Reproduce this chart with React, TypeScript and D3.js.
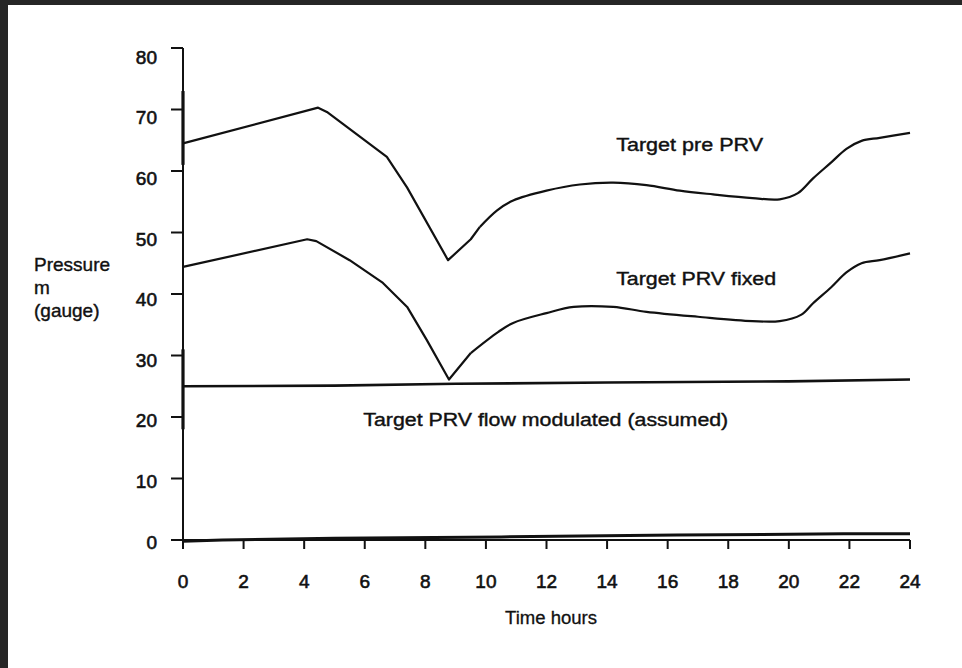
import React, { useEffect, useRef } from "react";
import * as d3 from "d3";

const W = 962;
const H = 668;

// Target pre PRV (hours, metres)
const preHours = [0, 4.46, 4.75, 6.73, 7.4, 8.75, 9.5, 9.8, 10.37, 10.9, 12.0, 13.1, 14.2, 15.3, 16.4, 17.5, 18.8, 19.7, 20.3, 20.8, 21.4, 21.9, 22.4, 23.0, 24];
const preValues = [64.5, 70.3, 69.6, 62.3, 57.3, 45.5, 48.9, 50.9, 53.6, 55.2, 56.8, 57.8, 58.1, 57.7, 56.8, 56.2, 55.6, 55.4, 56.4, 58.8, 61.4, 63.6, 64.9, 65.4, 66.2];

// Target PRV fixed
const fixedHours = [0, 4.1, 4.4, 5.5, 6.6, 7.4, 8.05, 8.78, 9.5, 10.4, 10.9, 12.0, 12.9, 14.2, 15.3, 17.0, 18.8, 19.7, 20.4, 20.8, 21.4, 21.9, 22.4, 23.0, 24];
const fixedValues = [44.4, 48.9, 48.6, 45.5, 41.8, 37.9, 32.5, 26.1, 30.4, 33.8, 35.3, 36.9, 37.9, 37.9, 37.1, 36.3, 35.6, 35.6, 36.6, 38.5, 41.1, 43.5, 45.0, 45.5, 46.6];

// Target PRV flow modulated (assumed)
const modHours = [0, 5, 9, 14, 20, 24];
const modValues = [25.0, 25.1, 25.4, 25.6, 25.8, 26.1];

// baseline trace near zero
const baseHours = [0, 1.3, 5, 10.5, 16.3, 21.8, 24];
const baseValues = [-0.2, 0, 0.3, 0.5, 0.8, 1.0, 1.0];

const xTicks = [0, 2, 4, 6, 8, 10, 12, 14, 16, 18, 20, 22, 24];
const yTicks = [0, 10, 20, 30, 40, 50, 60, 70, 80];

const seriesLabels = [
  { text: "Target pre PRV", hour: 14.3, value: 63.2, len: 147 },
  { text: "Target PRV fixed", hour: 14.3, value: 41.5, len: 160 },
  { text: "Target PRV flow modulated (assumed)", hour: 5.95, value: 18.5, len: 365 },
];

const yTitle = ["Pressure", "m", "(gauge)"];
const xTitle = "Time hours";

const FONT = "'Liberation Sans', Arial, Helvetica, sans-serif";

export default function App() {
  const ref = useRef<SVGSVGElement | null>(null);

  useEffect(() => {
    const svg = d3.select(ref.current);
    svg.selectAll("*").remove();

    const x = d3.scaleLinear().domain([0, 24]).range([183, 910]);
    const y = d3.scaleLinear().domain([0, 80]).range([540, 48]);
    const yLab = d3.scaleLinear().domain([0, 80]).range([542, 57]);

    svg.append("rect").attr("width", W).attr("height", H).attr("fill", "#ffffff");
    // scan border
    svg.append("rect").attr("x", 0).attr("y", 0).attr("width", W).attr("height", 5).attr("fill", "#262626");
    svg.append("rect").attr("x", 0).attr("y", 0).attr("width", 8).attr("height", H).attr("fill", "#262626");

    const g = svg.append("g");

    // y axis
    g.append("line").attr("x1", x(0)).attr("x2", x(0)).attr("y1", y(80)).attr("y2", y(0))
      .attr("stroke", "#111").attr("stroke-width", 2);
    g.append("line").attr("x1", x(0)).attr("x2", x(0)).attr("y1", y(73)).attr("y2", y(61))
      .attr("stroke", "#111").attr("stroke-width", 3.2);
    g.append("line").attr("x1", x(0)).attr("x2", x(0)).attr("y1", y(31)).attr("y2", y(18))
      .attr("stroke", "#111").attr("stroke-width", 3.2);
    g.selectAll(".ytick").data(yTicks).enter().append("line")
      .attr("x1", x(0) - 12).attr("x2", x(0)).attr("y1", d => y(d)).attr("y2", d => y(d))
      .attr("stroke", "#111").attr("stroke-width", 2);
    g.selectAll(".ylab").data(yTicks).enter().append("text")
      .attr("x", 157).attr("y", d => yLab(d)).attr("dy", "0.35em")
      .attr("text-anchor", "end").attr("font-family", FONT).attr("font-size", 19)
      .attr("fill", "#111").attr("stroke", "#111").attr("stroke-width", 0.6)
      .text(d => String(d));

    // x axis
    g.append("line").attr("x1", x(0)).attr("x2", x(24)).attr("y1", y(0)).attr("y2", y(0))
      .attr("stroke", "#111").attr("stroke-width", 2);
    g.selectAll(".xtick").data(xTicks).enter().append("line")
      .attr("x1", d => x(d)).attr("x2", d => x(d)).attr("y1", y(0)).attr("y2", y(0) + 9)
      .attr("stroke", "#111").attr("stroke-width", 2);
    g.selectAll(".xlab").data(xTicks).enter().append("text")
      .attr("x", d => x(d)).attr("y", 588)
      .attr("text-anchor", "middle").attr("font-family", FONT).attr("font-size", 19)
      .attr("fill", "#111").attr("stroke", "#111").attr("stroke-width", 0.6)
      .text(d => String(d));

    const linear = d3.line<[number, number]>().x(d => x(d[0])).y(d => y(d[1])).curve(d3.curveLinear);
    const smooth = d3.line<[number, number]>().x(d => x(d[0])).y(d => y(d[1])).curve(d3.curveCatmullRom.alpha(0.5));
    const zip = (h: number[], v: number[]) => h.map((hh, i) => [hh, v[i]] as [number, number]);

    // sharp (linear) part up to `split` hours, smooth afterwards
    const series = [
      { pts: zip(preHours, preValues), w: 2.2, split: 9.8 },
      { pts: zip(fixedHours, fixedValues), w: 2.2, split: 9.5 },
      { pts: zip(modHours, modValues), w: 2.6, split: 24 },
      { pts: zip(baseHours, baseValues), w: 3, split: 24 },
    ];
    series.forEach(s => {
      const a = s.pts.filter(p => p[0] <= s.split);
      const b = s.pts.filter(p => p[0] >= s.split);
      g.append("path").attr("d", linear(a) || "").attr("fill", "none")
        .attr("stroke", "#111").attr("stroke-width", s.w).attr("stroke-linejoin", "round");
      if (b.length > 1) {
        g.append("path").attr("d", smooth(b) || "").attr("fill", "none")
          .attr("stroke", "#111").attr("stroke-width", s.w).attr("stroke-linejoin", "round");
      }
    });

    // series labels
    seriesLabels.forEach(l => {
      g.append("text").attr("x", x(l.hour)).attr("y", y(l.value))
        .attr("font-family", FONT).attr("font-size", 18)
        .attr("textLength", l.len).attr("lengthAdjust", "spacingAndGlyphs")
        .attr("fill", "#111").attr("stroke", "#111").attr("stroke-width", 0.4)
        .text(l.text);
    });

    // y title
    yTitle.forEach((t, i) => {
      g.append("text").attr("x", 34).attr("y", 271 + i * 23)
        .attr("font-family", FONT).attr("font-size", 19)
        .attr("fill", "#111").attr("stroke", "#111").attr("stroke-width", 0.4)
        .text(t);
    });

    // x title
    g.append("text").attr("x", 551).attr("y", 624).attr("text-anchor", "middle")
      .attr("font-family", FONT).attr("font-size", 18)
      .attr("textLength", 92).attr("lengthAdjust", "spacingAndGlyphs")
      .attr("fill", "#111").attr("stroke", "#111").attr("stroke-width", 0.3)
      .text(xTitle);
  }, []);

  return (
    <svg ref={ref} width={W} height={H} style={{ position: "absolute", left: 0, top: 0, display: "block" }} />
  );
}
